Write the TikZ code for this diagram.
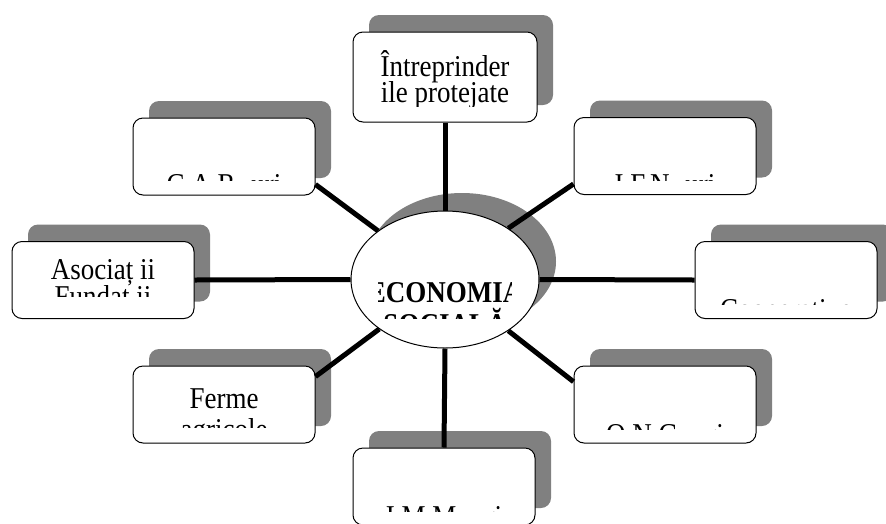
\documentclass[tikz,border=0pt]{standalone}
\usepackage{graphicx}
\usepackage{fontspec}
\setmainfont{Liberation Serif}
\usetikzlibrary{shapes.geometric,shadows}
\definecolor{umbra}{gray}{0.5}
\newcommand{\inalt}[1]{\scalebox{1}[1.12]{#1}}

\begin{document}
\begin{tikzpicture}[x=1pt,y=-1pt,
  bloc/.style={draw,line width=1pt,rounded corners=10pt,fill=white,minimum width=182pt,minimum height=77pt,
    general shadow={fill=umbra,shadow xshift=16pt,shadow yshift=17pt}},
  centru/.style={ellipse,draw,line width=1pt,fill=white,minimum width=188pt,minimum height=137pt,
    general shadow={fill=umbra,shadow xshift=17pt,shadow yshift=18pt}},
  eticheta/.style={anchor=base,inner sep=0pt,font=\fontsize{27}{30}\selectfont},
  legatura/.style={line width=5pt}]
\useasboundingbox (0,0) rectangle (886,523);

% nucleul
\node[centru] (ec) at (445,279.5) {};
\begin{scope}
\clip (378,200) rectangle (511,318);
\node[eticheta,font=\fontsize{27}{30}\selectfont\bfseries] (ec-a) at (445,302) {\inalt{ECONOMIA}};
\node[eticheta,font=\fontsize{27}{30}\selectfont\bfseries] (ec-b) at (445,334) {\inalt{SOCIALĂ}};
\end{scope}

% caseta de sus
\node[bloc,minimum width=184pt,minimum height=90pt] (tp) at (445,77) {};
\begin{scope}
\clip (353,32) rectangle (537,106);
\node[eticheta] (tp-a) at (445,76) {\inalt{Întreprinder}};
\node[eticheta] (tp-b) at (445,102) {\inalt{ile protejate}};
\end{scope}

% celelalte casete (textul taiat jos)
\foreach \n/\cx/\cy/\la/\lb/\ba/\bb/\cut in {
  car/224/156.5/{}/C.A.R.-uri/150/194/180,
  ifn/665/156/{}/I.F.N.-uri/150/194/180,
  as/103/280/Asociaț ii/Fundaț ii/279/306/296,
  coop/786/280/{}/Cooperative/275/319/304,
  fer/224/404.5/Ferme/agricole/408/439/427,
  ong/665/404.5/{}/O.N.G.-uri/400/444/429,
  imm/444/486.5/{}/I.M.M.-uri/482/526/511}{
  \node[bloc] (\n) at (\cx,\cy) {};
  \begin{scope}
  \clip (\cx-91,\cy-38) rectangle (\cx+91,\cut);
  \node[eticheta] (\n-a) at (\cx,\ba) {\inalt{\la}};
  \node[eticheta] (\n-b) at (\cx,\bb) {\inalt{\lb}};
  \end{scope}
}

% legaturi
\draw[legatura] (tp.south) -- (ec.north);
\draw[legatura] (ec.south) -- (imm.north);
\draw[legatura] (as.east) -- (ec.west);
\draw[legatura] (ec.east) -- (coop.west);
\draw[legatura] (car.-17) -- (ec.144);
\draw[legatura] (ec.39) -- (ifn.197);
\draw[legatura] (ec.-143) -- (fer.17);
\draw[legatura] (ec.-39) -- (ong.166);
\end{tikzpicture}
\end{document}
